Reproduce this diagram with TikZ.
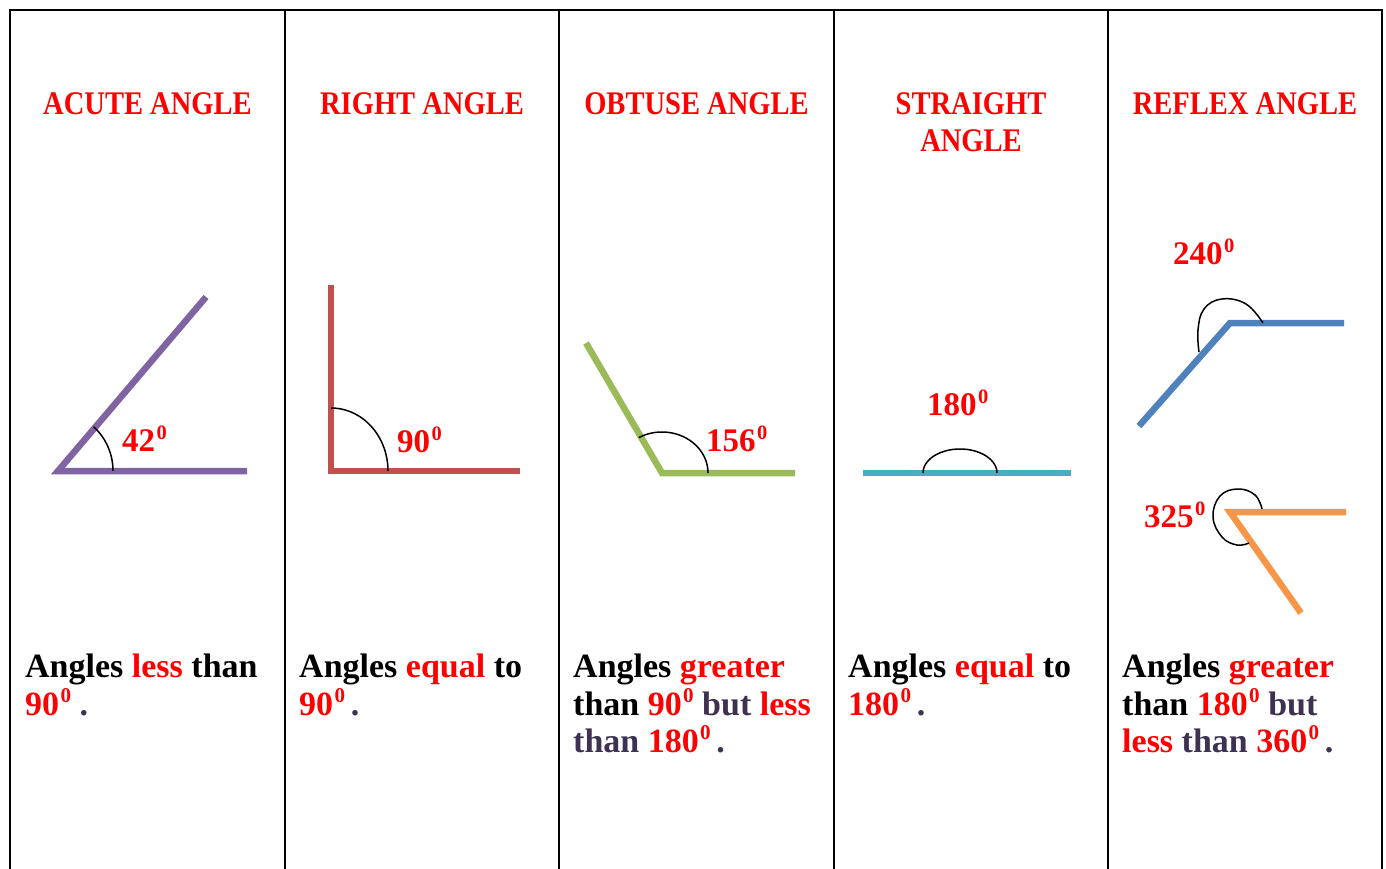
\documentclass[tikz,border=0pt]{standalone}
\usepackage{fontspec}
\setmainfont{Liberation Serif}
\newfontfamily\titlefont{Liberation Serif}[FakeStretch=0.865]
\definecolor{tred}{HTML}{FF0000}
\definecolor{tdark}{HTML}{3F3151}
\definecolor{cpurple}{HTML}{8064A2}
\definecolor{cred}{HTML}{C0504D}
\definecolor{cgreen}{HTML}{9BBB59}
\definecolor{cteal}{HTML}{4BACC6}
\definecolor{cblue}{HTML}{4F81BD}
\definecolor{corange}{HTML}{F79646}
\newcommand{\supz}{\kern0.04em\raisebox{0.36em}{\scalebox{0.62}{0}}}
\newcommand{\dg}[1]{\textcolor{tred}{#1\supz}}
\newcommand{\rd}[1]{\textcolor{tred}{#1}}
\newcommand{\dk}[1]{\textcolor{tdark}{#1}}
\begin{document}
\begin{tikzpicture}[x=1pt,y=-1pt,
  ttl/.style={text=tred, font=\titlefont\bfseries\fontsize{33}{37}\selectfont, anchor=base, inner sep=0pt},
  lbl/.style={text=tred, font=\bfseries\fontsize{33}{36}\selectfont, anchor=base west, inner sep=0pt},
  desc/.style={font=\bfseries\fontsize{34}{38}\selectfont, anchor=base west, inner sep=0pt},
  gridline/.style={line width=2pt, black},
  ray/.style={line width=6.5pt, line join=miter, line cap=butt},
  arcl/.style={line width=1.5pt, black}]
\useasboundingbox (0,0) rectangle (1386,869);
% table
\draw[gridline] (10,880) -- (10,10) -- (1382,10) -- (1382,880);
\foreach \x in {285,559,834,1108} \draw[gridline] (\x,10) -- (\x,880);
% titles
\node[ttl] (t1) at (147.5,115) {ACUTE ANGLE};
\node[ttl] (t2) at (422,115) {RIGHT ANGLE};
\node[ttl] (t3) at (696.5,115) {OBTUSE ANGLE};
\node[ttl] (t4a) at (971,115) {STRAIGHT};
\node[ttl] (t4b) at (971,152) {ANGLE};
\node[ttl] (t5) at (1245,115) {REFLEX ANGLE};
% acute
\coordinate (a0) at (58,471);
\draw[ray, cpurple] (206,297) -- (a0) -- (247,471);
\draw[arcl] plot[domain=0:49.6, samples=30, variable=\t] ({58+55*cos(\t)},{471-58*sin(\t)});
\node[lbl] (l1) at (122,451) {42\supz};
% right
\coordinate (r0) at (331,471);
\draw[ray, cred] (331,285) -- (r0) -- (520,471);
\draw[arcl] plot[domain=0:90, samples=30, variable=\t] ({331+57*cos(\t)},{471-63*sin(\t)});
\node[lbl] (l2) at (397,452) {90\supz};
% obtuse
\coordinate (o0) at (662,473);
\draw[ray, cgreen] (586,343) -- (o0) -- (795,473);
\draw[arcl] plot[domain=0:120.3, samples=40, variable=\t] ({662+46*cos(\t)},{473-41*sin(\t)});
\node[lbl] (l3) at (706,451) {156\supz};
% straight
\coordinate (s0) at (960,473);
\draw[ray, cteal] (863,473) -- (s0) -- (1071,473);
\draw[arcl] plot[domain=0:180, samples=40, variable=\t] ({960+37*cos(\t)},{473-24*sin(\t)});
\node[lbl] (l4) at (927,415) {180\supz};
% reflex 240
\coordinate (b0) at (1230,323);
\draw[ray, cblue] (1139,426) -- (b0) -- (1344,323);
\draw[arcl] plot[smooth, tension=0.7] coordinates {(1263,323) (1246,304) (1222,299) (1204,309) (1198,330) (1199,352)};
\node[lbl] (l5) at (1173,264) {240\supz};
% reflex 325
\coordinate (c0) at (1230,512);
\draw[ray, corange] (1346,512) -- (c0) -- (1301,613);
\draw[arcl] plot[smooth, tension=0.7] coordinates {(1262,509) (1255,495) (1238,489) (1220,496) (1213,517) (1222,537) (1237,545) (1249,543)};
\node[lbl] (l6) at (1144,527) {325\supz};
% descriptions
\node[desc] (d1a) at (25,677) {Angles \rd{less} than};
\node[desc] (d1b) at (25,715) {\dg{90} \dk{.}};
\node[desc] (d2a) at (299,677) {Angles \rd{equal} to};
\node[desc] (d2b) at (299,715) {\dg{90}\,\dk{.}};
\node[desc] (d3a) at (573,677) {Angles \rd{greater}};
\node[desc] (d3b) at (573,715) {than \dg{90} \dk{but} \rd{less}};
\node[desc] (d3c) at (573,752) {\dk{than} \dg{180}\,\dk{.}};
\node[desc] (d4a) at (848,677) {Angles \rd{equal} to};
\node[desc] (d4b) at (848,715) {\dg{180}\,\dk{.}};
\node[desc] (d5a) at (1122,677) {Angles \rd{greater}};
\node[desc] (d5b) at (1122,715) {than \dg{180} \dk{but}};
\node[desc] (d5c) at (1122,752) {\rd{less} \dk{than} \dg{360}\,\dk{.}};
\end{tikzpicture}
\end{document}
